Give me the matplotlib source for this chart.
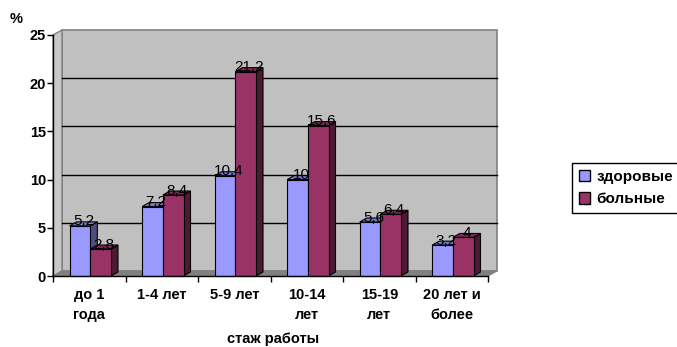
import matplotlib
matplotlib.use('Agg')
import matplotlib.pyplot as plt
from matplotlib.patches import Polygon, Patch

plt.rcParams['font.family'] = ['Liberation Sans', 'DejaVu Sans']

cats = ['до 1\nгода', '1-4 лет', '5-9 лет', '10-14\nлет', '15-19\nлет', '20 лет и\nболее']
healthy = [5.2, 7.2, 10.4, 10, 5.6, 3.2]
sick = [2.8, 8.4, 21.2, 15.6, 6.4, 4]
series = [('здоровые', healthy), ('больные', sick)]
yticks = [0, 5, 10, 15, 20, 25]

# face colours: front, top, side
clr = [('#9999ff', '#7a7acc', '#4d4d80'), ('#993366', '#7a2952', '#4d1a33')]

W, H = 677, 347
fig = plt.figure(figsize=(W / 100, H / 100), dpi=100)
px_x = 72.5    # pixels per category
px_y = 9.64    # pixels per percent
x0_px, y0_px = 53, 276
ax = fig.add_axes([x0_px / W, (H - y0_px) / H, 6.2 * px_x / W, 26 * px_y / H])
ax.set_xlim(0, 6.2)
ax.set_ylim(0, 26)

# wall depth and bar depth in data units
DX, DY = 9 / px_x, 5 / px_y
dx, dy = 7 / px_x, 4 / px_y

def poly(pts, fc, ec='none', lw=0.8, z=1):
    ax.add_patch(Polygon(pts, closed=True, fc=fc, ec=ec, lw=lw, zorder=z, clip_on=False))

# walls and floor
poly([(DX, DY), (6 + DX, DY), (6 + DX, 25 + DY), (DX, 25 + DY)], '#c0c0c0', '#808080', 1.2, 0)
poly([(0, 0), (DX, DY), (DX, 25 + DY), (0, 25)], '#c8c8c8', '#808080', 1.0, 0)
poly([(0, 0), (6, 0), (6 + DX, DY), (DX, DY)], '#808080', '#808080', 0.8, 0.5)
for v in yticks[1:-1]:
    ax.plot([DX, 6 + DX], [v + DY, v + DY], color='black', lw=1.0, zorder=0.6, clip_on=False)

# bars
off, bw = 0.23, 0.285
for i in range(len(cats)):
    for k, (name, vals) in enumerate(series):
        v = vals[i]
        a = i + off + k * bw
        b = a + bw
        fc, tc, sc = clr[k]
        poly([(b, 0), (b + dx, dy), (b + dx, v + dy), (b, v)], sc, 'black', 0.8, 2)
        poly([(a, v), (b, v), (b + dx, v + dy), (a + dx, v + dy)], tc, 'black', 0.8, 2)
        poly([(a, 0), (b, 0), (b, v), (a, v)], fc, 'black', 0.8, 2)
        ax.text((a + b) / 2 + dx / 2, v + 0.05, str(v).replace('.', ','),
                ha='center', va='baseline', fontsize=11, zorder=5)

for s in ['top', 'right']:
    ax.spines[s].set_visible(False)
ax.spines['left'].set_bounds(0, 25)
ax.spines['bottom'].set_bounds(0, 6)
for s in ['left', 'bottom']:
    ax.spines[s].set_linewidth(1.0)
    ax.spines[s].set_zorder(3)

ax.set_yticks(yticks)
ax.set_yticklabels([str(t) for t in yticks], fontsize=10.5, fontweight='bold')
ax.tick_params(axis='y', direction='out', length=4, width=1, pad=1)
ax.set_xticks(range(7))
ax.set_xticklabels([''] * 7)
ax.tick_params(axis='x', which='major', direction='out', length=4, width=1)
ax.set_xticks([i + 0.5 for i in range(len(cats))], minor=True)
ax.set_xticklabels(cats, minor=True, fontsize=10.5, fontweight='bold', linespacing=1.55)
ax.tick_params(axis='x', which='minor', length=0, pad=8.5)

fig.text(16 / W, 1 - 19 / H, '%', ha='center', va='center', fontsize=10.5, fontweight='bold')
fig.text(273 / W, 1 - 332 / H, 'стаж работы', ha='center', va='top', fontsize=10.5, fontweight='bold')

handles = [Patch(fc=clr[k][0], ec='black', lw=1.0, label=series[k][0]) for k in range(2)]
leg = fig.legend(handles=handles, loc='upper left', bbox_to_anchor=(572 / W, 1 - 163 / H),
                 frameon=True, fancybox=False, edgecolor='black', framealpha=1,
                 handlelength=0.75, handleheight=0.75, handletextpad=0.4,
                 borderpad=0.45, labelspacing=0.55, borderaxespad=0,
                 prop={'size': 11, 'weight': 'bold'})
leg.get_frame().set_linewidth(1.0)

fig.savefig('out.png', dpi=100)
